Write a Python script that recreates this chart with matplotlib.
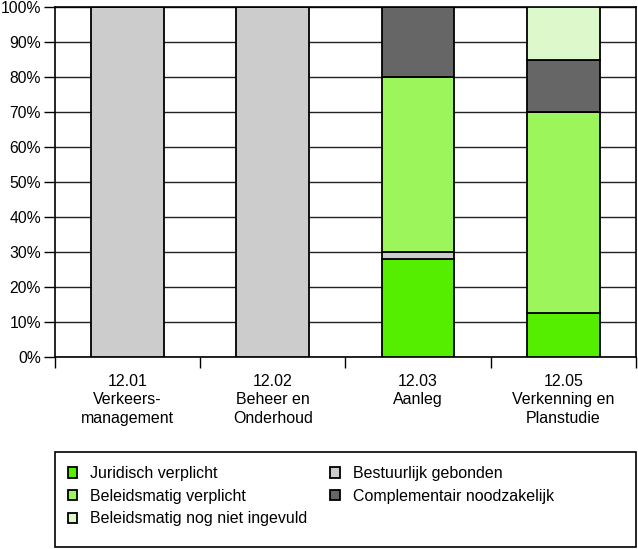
import numpy as np
import matplotlib.pyplot as plt
from matplotlib.patches import Rectangle
from matplotlib.ticker import FixedLocator, PercentFormatter

plt.rcParams['font.family'] = ['Liberation Sans', 'DejaVu Sans']

# categorieën en waarden (percentages)
categories = ['12.01\nVerkeers-\nmanagement', '12.02\nBeheer en\nOnderhoud',
              '12.03\nAanleg', '12.05\nVerkenning en\nPlanstudie']
juridisch = [0, 0, 28, 12.5]
bestuurlijk = [100, 100, 2, 0]
beleidsmatig = [0, 0, 50, 57.5]
complementair = [0, 0, 20, 15]
nog_niet = [0, 0, 0, 15]

series = [
    ('Juridisch verplicht', juridisch, '#55ee00'),
    ('Bestuurlijk gebonden', bestuurlijk, '#cccccc'),
    ('Beleidsmatig verplicht', beleidsmatig, '#9cf55a'),
    ('Complementair noodzakelijk', complementair, '#666666'),
    ('Beleidsmatig nog niet ingevuld', nog_niet, '#ddf9cc'),
]

fig = plt.figure(figsize=(6.38, 5.49), dpi=100)
ax = fig.add_axes([0.086, 0.350, 0.911, 0.637])

x = np.arange(len(categories))
bottom = np.zeros(len(categories))
handles = {}
for name, vals, col in series:
    vals = np.array(vals, dtype=float)
    b = ax.bar(x, vals, 0.5, bottom=bottom, color=col, edgecolor='black',
               linewidth=1.3, zorder=3, label=name)
    handles[name] = b
    bottom += vals

ax.set_xlim(-0.5, len(categories) - 0.5)
ax.set_ylim(0, 100)
ax.yaxis.set_major_locator(FixedLocator(np.arange(0, 101, 10)))
ax.yaxis.set_major_formatter(PercentFormatter(decimals=0))
ax.grid(axis='y', color='#222222', linewidth=1, zorder=0)
ax.tick_params(axis='y', length=8, width=1, labelsize=11.3, pad=2)

# scheidingsstreepjes tussen categorieën, labels in het midden
ax.xaxis.set_major_locator(FixedLocator(np.arange(-0.5, len(categories), 1)))
ax.xaxis.set_major_formatter(plt.NullFormatter())
ax.tick_params(axis='x', which='major', length=8, width=1)
ax.xaxis.set_minor_locator(FixedLocator(x))
ax.set_xticklabels(categories, minor=True, fontsize=11.5, linespacing=1.32)
ax.tick_params(axis='x', which='minor', length=0, pad=12)

for s in ax.spines.values():
    s.set_linewidth(1.2)

# legendakader
fig.patches.append(Rectangle((0.086, 0.004), 0.911, 0.173, transform=fig.transFigure,
                             facecolor='none', edgecolor='black', linewidth=1.2))

order = ['Juridisch verplicht', 'Beleidsmatig verplicht', 'Beleidsmatig nog niet ingevuld',
         'Bestuurlijk gebonden', 'Complementair noodzakelijk']
leg = fig.legend([handles[n] for n in order], order, ncol=2, loc='upper left',
                 bbox_to_anchor=(0.106, 0.151), fontsize=11.5, frameon=False,
                 handlelength=0.6, handleheight=0.6, handletextpad=0.8,
                 labelspacing=0.48, columnspacing=1.45, borderpad=0, borderaxespad=0)

plt.savefig('out.png', dpi=100)
